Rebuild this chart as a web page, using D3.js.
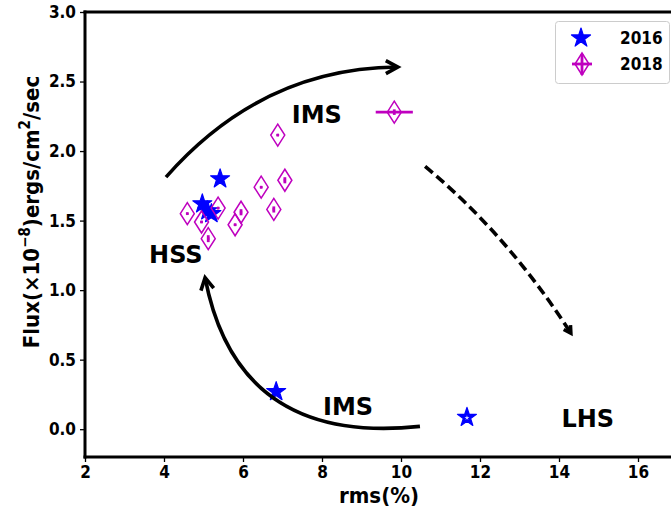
<!DOCTYPE html>
<html>
<head>
<meta charset="utf-8">
<script src="https://cdn.jsdelivr.net/npm/d3@7"></script>
<style>
  html, body { margin: 0; padding: 0; background: #fff; }
  svg text { font-family: "DejaVu Sans", sans-serif; font-stretch: condensed; font-weight: bold; }
</style>
</head>
<body>
<svg id="chart" width="671" height="514"></svg>
<script>
// ---- data ----
const rmsTicks = [2, 4, 6, 8, 10, 12, 14, 16];
const fluxTicks = [0.0, 0.5, 1.0, 1.5, 2.0, 2.5, 3.0];

// 2016 observations
const rms2016 = [5.42, 4.97, 5.10, 5.20, 6.84, 11.67];
const flux2016 = [1.80, 1.62, 1.57, 1.55, 0.27, 0.085];

// 2018 observations with errors
const rms2018 = [4.59, 4.95, 5.12, 5.37, 5.80, 5.95, 6.46, 7.06, 6.78, 6.88, 9.83];
const flux2018 = [1.55, 1.49, 1.37, 1.59, 1.47, 1.56, 1.74, 1.79, 1.58, 2.115, 2.28];
const rmsErr2018 = [0.03, 0.03, 0.03, 0.03, 0.03, 0.03, 0.03, 0.03, 0.03, 0.03, 0.47];
const fluxErr2018 = [0.008, 0.008, 0.025, 0.008, 0.008, 0.022, 0.008, 0.022, 0.022, 0.008, 0.02];

const seriesNames = ["2016", "2018"];

// state labels [rms, flux, text]
const stateLabels = [
  [7.87, 2.26, "IMS"],
  [4.30, 1.25, "HSS"],
  [8.66, 0.16, "IMS"],
  [14.73, 0.07, "LHS"]
];

// cycle arrows: start, control, end (quadratic curves in data units)
const cycleArrows = [
  { start: [4.05, 1.813], ctrl: [6.48, 2.597], end: [9.92, 2.604], dashed: false },
  { start: [10.61, 1.89], ctrl: [12.72, 1.39], end: [14.30, 0.69], dashed: true },
  { start: [10.48, 0.02], ctrl: [5.85, -0.12], end: [5.04, 1.09], dashed: false }
];

// ---- layout ----
const svg = d3.select("#chart");
const mLeft = 85, mTop = 12, mBottom = 457, mRight = 677.5;
const x = d3.scaleLinear().domain([2, 17]).range([mLeft, mRight]);
const y = d3.scaleLinear().domain([-0.2, 3.0]).range([mBottom, mTop]);

const blue = "#0000ff", magenta = "#bf00bf";

// axes
const xAxis = d3.axisBottom(x).tickValues(rmsTicks).tickFormat(d3.format("d")).tickSize(5).tickPadding(4);
const yAxis = d3.axisLeft(y).tickValues(fluxTicks).tickFormat(d3.format(".1f")).tickSize(5).tickPadding(4);

const gx = svg.append("g").attr("transform", `translate(0,${mBottom})`).call(xAxis);
const gy = svg.append("g").attr("transform", `translate(${mLeft},0)`).call(yAxis);
[gx, gy].forEach(g => {
  g.select(".domain").remove();
  g.selectAll(".tick line").attr("stroke", "#000").attr("stroke-width", 1.3);
  g.selectAll(".tick text").attr("fill", "#000").style("font-size", "17px");
});

// spines
svg.append("line").attr("x1", mLeft).attr("x2", mLeft).attr("y1", mTop - 1.5).attr("y2", mBottom + 1.5)
  .attr("stroke", "#000").attr("stroke-width", 3);
svg.append("line").attr("x1", mLeft - 1.5).attr("x2", 700).attr("y1", mBottom).attr("y2", mBottom)
  .attr("stroke", "#000").attr("stroke-width", 3);
svg.append("line").attr("x1", mLeft - 1.5).attr("x2", 700).attr("y1", mTop).attr("y2", mTop)
  .attr("stroke", "#000").attr("stroke-width", 3);

// axis titles
svg.append("text").attr("x", 379).attr("y", 503).attr("text-anchor", "middle")
  .style("font-size", "22px").text("rms(%)");

const yl = svg.append("text").attr("transform", "translate(39,212) rotate(-90)")
  .attr("text-anchor", "middle").style("font-size", "22px");
yl.append("tspan").text("Flux(×10");
yl.append("tspan").attr("dy", -9).style("font-size", "15px").text("−8");
yl.append("tspan").attr("dy", 9).text(")ergs/cm");
yl.append("tspan").attr("dy", -9).style("font-size", "15px").text("2");
yl.append("tspan").attr("dy", 9).text("/sec");

// marker shapes
const starPath = d3.symbol().type(d3.symbolStar).size(112)();
const starSmall = d3.symbol().type(d3.symbolStar).size(7)();
function diamondPath(w, h) {
  const p = d3.path();
  p.moveTo(0, -h / 2); p.lineTo(w / 2, 0); p.lineTo(0, h / 2); p.lineTo(-w / 2, 0); p.closePath();
  return p.toString();
}

// 2016 stars
const g16 = svg.append("g");
rms2016.forEach((r, i) => {
  g16.append("path").attr("d", starPath)
    .attr("transform", `translate(${x(r)},${y(flux2016[i])})`)
    .attr("fill", blue).attr("stroke", blue).attr("stroke-width", 1.2)
    .attr("stroke-linejoin", "round");
});
// the low-flux hard-state point carries an open centre
g16.append("path").attr("d", starSmall)
  .attr("transform", `translate(${x(rms2016[5])},${y(flux2016[5]) + 0.5})`)
  .attr("fill", "#fff").attr("fill-opacity", 0.85);

// arrows
function arrowHead(g, tip, dir, len, half, sw) {
  const n = Math.hypot(dir[0], dir[1]);
  const ux = dir[0] / n, uy = dir[1] / n;
  const bx = tip[0] - ux * len, by = tip[1] - uy * len;
  const px = -uy * half, py = ux * half;
  g.append("path")
    .attr("d", `M${bx + px},${by + py}L${tip[0]},${tip[1]}L${bx - px},${by - py}`)
    .attr("fill", "none").attr("stroke", "#000").attr("stroke-width", sw)
    .attr("stroke-linejoin", "miter");
}
const ga = svg.append("g");
cycleArrows.forEach(a => {
  const s = [x(a.start[0]), y(a.start[1])];
  const c = [x(a.ctrl[0]), y(a.ctrl[1])];
  const e = [x(a.end[0]), y(a.end[1])];
  const p = d3.path();
  p.moveTo(s[0], s[1]);
  p.quadraticCurveTo(c[0], c[1], e[0], e[1]);
  ga.append("path").attr("d", p.toString()).attr("fill", "none")
    .attr("stroke", "#000").attr("stroke-width", 3.6)
    .attr("stroke-dasharray", a.dashed ? "10,5" : null);
  const dir = [e[0] - c[0], e[1] - c[1]];
  if (a.dashed) arrowHead(ga, e, dir, 7, 4, 3.6);
  else arrowHead(ga, e, dir, 12, 6.5, 3.6);
});

// 2018 diamonds with error bars
const g18 = svg.append("g");
rms2018.forEach((r, i) => {
  const cx = x(r), cy = y(flux2018[i]);
  g18.append("line")
    .attr("x1", x(r - rmsErr2018[i])).attr("x2", x(r + rmsErr2018[i]))
    .attr("y1", cy).attr("y2", cy)
    .attr("stroke", magenta).attr("stroke-width", 2.8);
  g18.append("line")
    .attr("x1", cx).attr("x2", cx)
    .attr("y1", y(flux2018[i] - fluxErr2018[i])).attr("y2", y(flux2018[i] + fluxErr2018[i]))
    .attr("stroke", magenta).attr("stroke-width", 2.8);
  g18.append("path").attr("d", diamondPath(14, 22))
    .attr("transform", `translate(${cx},${cy})`)
    .attr("fill", "none").attr("stroke", magenta).attr("stroke-width", 1.5);
});

// state labels
svg.append("g").selectAll("text").data(stateLabels).join("text")
  .attr("x", d => x(d[0])).attr("y", d => y(d[1]))
  .attr("text-anchor", "middle").attr("dominant-baseline", "central")
  .style("font-size", "24px").style("font-stretch", "normal")
  .text(d => d[2]);

// legend
const lg = svg.append("g");
lg.append("rect").attr("x", 555.5).attr("y", 21.5).attr("width", 114).attr("height", 62).attr("rx", 3)
  .attr("fill", "#fff").attr("fill-opacity", 0.8).attr("stroke", "#cccccc").attr("stroke-width", 1);
lg.append("path").attr("d", starPath).attr("transform", "translate(581,38)")
  .attr("fill", blue).attr("stroke", blue).attr("stroke-width", 1.2).attr("stroke-linejoin", "round");
lg.append("line").attr("x1", 572).attr("x2", 592).attr("y1", 64).attr("y2", 64)
  .attr("stroke", magenta).attr("stroke-width", 2.8);
lg.append("line").attr("x1", 582).attr("x2", 582).attr("y1", 54).attr("y2", 75)
  .attr("stroke", magenta).attr("stroke-width", 2.8);
lg.append("path").attr("d", diamondPath(14, 22)).attr("transform", "translate(582,64)")
  .attr("fill", "none").attr("stroke", magenta).attr("stroke-width", 1.5);
lg.selectAll("text.lab").data(seriesNames).join("text").attr("class", "lab")
  .attr("x", 620).attr("y", (d, i) => 38 + i * 26)
  .attr("dominant-baseline", "central").style("font-size", "17px")
  .text(d => d);
</script>
</body>
</html>
